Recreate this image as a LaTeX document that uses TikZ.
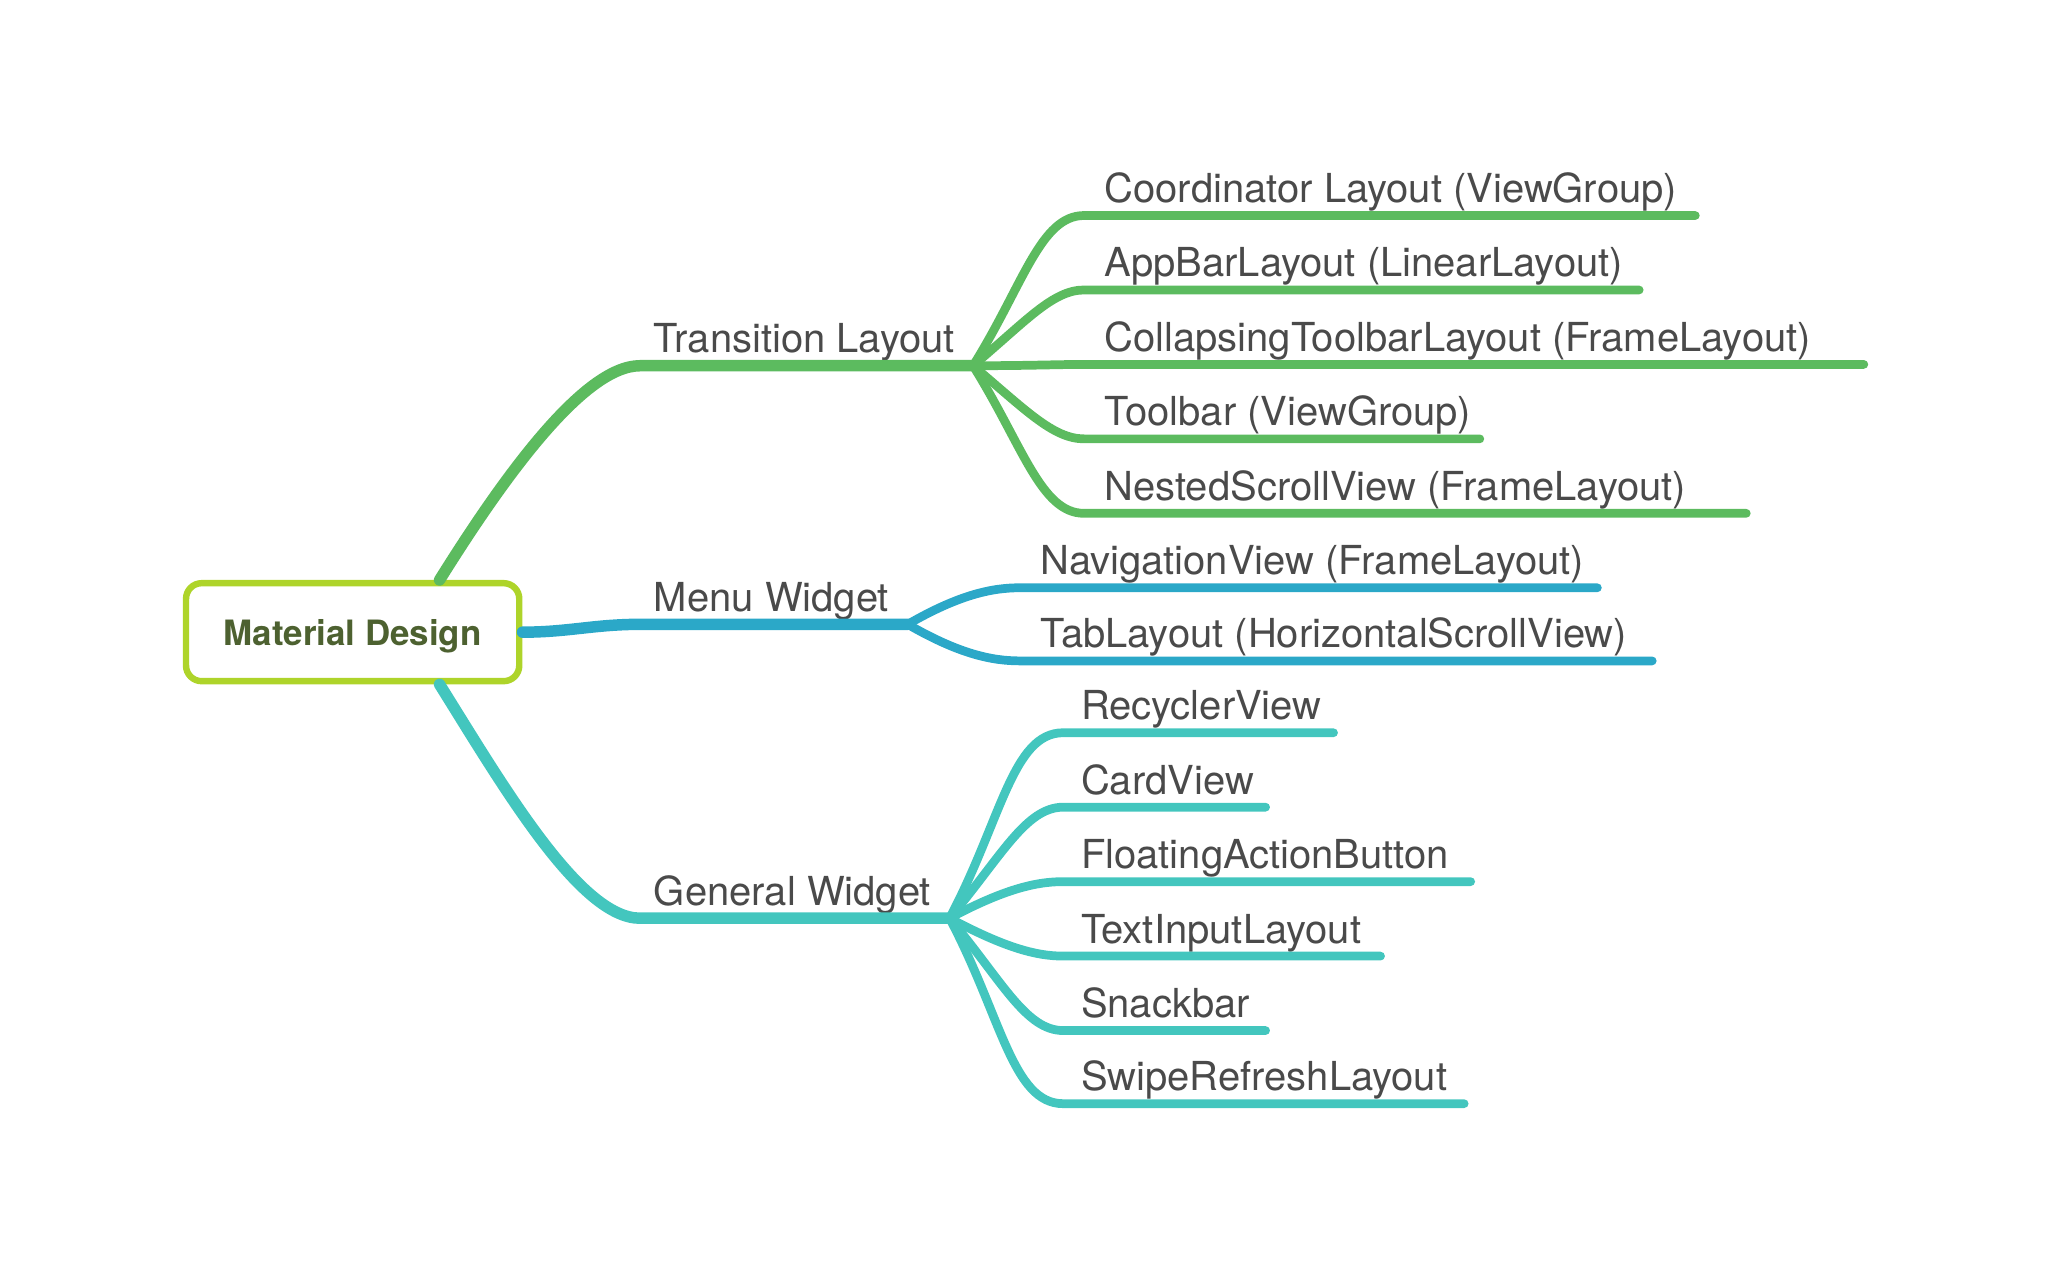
\documentclass[tikz,border=0pt]{standalone}
\usepackage{fontspec}
\setmainfont{TeX Gyre Heros}
\usepackage{tikz}
\usetikzlibrary{calc}
\definecolor{TransGreen}{HTML}{5CBB5F}
\definecolor{MenuBlue}{HTML}{2BA8C8}
\definecolor{WidgetTeal}{HTML}{43C6BE}
\definecolor{RootLime}{HTML}{AED42A}
\definecolor{RootText}{HTML}{4D6130}
\definecolor{LeafText}{HTML}{4A4A4A}
\tikzstyle{root} = [rectangle, rounded corners=0.12cm, draw=RootLime, line width=1.4pt,
fill=white, minimum width=2.55cm, minimum height=0.75cm, text depth=0pt,
font=\bfseries\fontsize{7.6}{9}\selectfont, text=RootText]
\tikzstyle{leaf} = [anchor=base west, inner sep=0pt,
font=\fontsize{8.7}{10}\selectfont, text=LeafText]
\tikzstyle{trunk} = [line width=2.5pt, line cap=round, out looseness=1, in looseness=0.5]
\tikzstyle{twig} = [line width=1.9pt, line cap=round, out looseness=1.3, in looseness=0.6]

\begin{document}
\begin{tikzpicture}[x=0.01cm, y=0.01cm]
	\useasboundingbox (0,0) rectangle (1568,-969);
	\node[root] (md) at (270,-484) {Material Design};

	% Transition Layout
	\coordinate (tl-a) at (490,-280);
	\coordinate (tl) at (745,-280);
	\node[leaf] (tl-txt) at (500,-270) {Transition Layout};
	\draw[trunk, TransGreen] (md.31) to[out=58, in=180] (tl-a) -- (tl);

	\node[leaf] (coord) at (845,-155) {Coordinator Layout (ViewGroup)};
	\coordinate (coord-a) at (830,-165);
	\coordinate (coord-b) at (1298,-165);
	\draw[twig, TransGreen] (tl) to[out=58, in=180] (coord-a) -- (coord-b);
	\node[leaf] (appbar) at (845,-212) {AppBarLayout (LinearLayout)};
	\coordinate (appbar-a) at (830,-222);
	\coordinate (appbar-b) at (1255,-222);
	\draw[twig, TransGreen] (tl) to[out=40, in=180] (appbar-a) -- (appbar-b);
	\node[leaf] (collaps) at (845,-269) {CollapsingToolbarLayout (FrameLayout)};
	\coordinate (collaps-a) at (830,-279);
	\coordinate (collaps-b) at (1427,-279);
	\draw[twig, TransGreen] (tl) to[out=0, in=180] (collaps-a) -- (collaps-b);
	\node[leaf] (toolbar) at (845,-326) {Toolbar (ViewGroup)};
	\coordinate (toolbar-a) at (830,-336);
	\coordinate (toolbar-b) at (1133,-336);
	\draw[twig, TransGreen] (tl) to[out=-40, in=180] (toolbar-a) -- (toolbar-b);
	\node[leaf] (nested) at (845,-383) {NestedScrollView (FrameLayout)};
	\coordinate (nested-a) at (830,-393);
	\coordinate (nested-b) at (1337,-393);
	\draw[twig, TransGreen] (tl) to[out=-58, in=180] (nested-a) -- (nested-b);

	% Menu Widget
	\coordinate (mw-a) at (490,-478);
	\coordinate (mw) at (695,-478);
	\node[leaf] (mw-txt) at (500,-468) {Menu Widget};
	\draw[trunk, MenuBlue] (md.east) to[out=0, in=180, in looseness=1] (mw-a) -- (mw);

	\node[leaf] (navview) at (796,-440) {NavigationView (FrameLayout)};
	\coordinate (navview-a) at (781,-450);
	\coordinate (navview-b) at (1223,-450);
	\draw[twig, MenuBlue] (mw) to[out=30, in=180] (navview-a) -- (navview-b);
	\node[leaf] (tablay) at (796,-496) {TabLayout (HorizontalScrollView)};
	\coordinate (tablay-a) at (781,-506);
	\coordinate (tablay-b) at (1265,-506);
	\draw[twig, MenuBlue] (mw) to[out=-30, in=180] (tablay-a) -- (tablay-b);

	% General Widget
	\coordinate (gw-a) at (490,-703);
	\coordinate (gw) at (727,-703);
	\node[leaf] (gw-txt) at (500,-693) {General Widget};
	\draw[trunk, WidgetTeal] (md.-31) to[out=-58, in=180] (gw-a) -- (gw);

	\node[leaf] (recycler) at (827,-551) {RecyclerView};
	\coordinate (recycler-a) at (814,-561);
	\coordinate (recycler-b) at (1021,-561);
	\draw[twig, WidgetTeal] (gw) to[out=62, in=180] (recycler-a) -- (recycler-b);
	\node[leaf] (card) at (827,-608) {CardView};
	\coordinate (card-a) at (814,-618);
	\coordinate (card-b) at (969,-618);
	\draw[twig, WidgetTeal] (gw) to[out=50, in=180] (card-a) -- (card-b);
	\node[leaf] (fab) at (827,-665) {FloatingActionButton};
	\coordinate (fab-a) at (814,-675);
	\coordinate (fab-b) at (1126,-675);
	\draw[twig, WidgetTeal] (gw) to[out=28, in=180] (fab-a) -- (fab-b);
	\node[leaf] (textin) at (827,-722) {TextInputLayout};
	\coordinate (textin-a) at (814,-732);
	\coordinate (textin-b) at (1057,-732);
	\draw[twig, WidgetTeal] (gw) to[out=-28, in=180] (textin-a) -- (textin-b);
	\node[leaf] (snack) at (827,-779) {Snackbar};
	\coordinate (snack-a) at (814,-789);
	\coordinate (snack-b) at (969,-789);
	\draw[twig, WidgetTeal] (gw) to[out=-50, in=180] (snack-a) -- (snack-b);
	\node[leaf] (swipe) at (827,-835) {SwipeRefreshLayout};
	\coordinate (swipe-a) at (814,-845);
	\coordinate (swipe-b) at (1121,-845);
	\draw[twig, WidgetTeal] (gw) to[out=-62, in=180] (swipe-a) -- (swipe-b);
\end{tikzpicture}
\end{document}
